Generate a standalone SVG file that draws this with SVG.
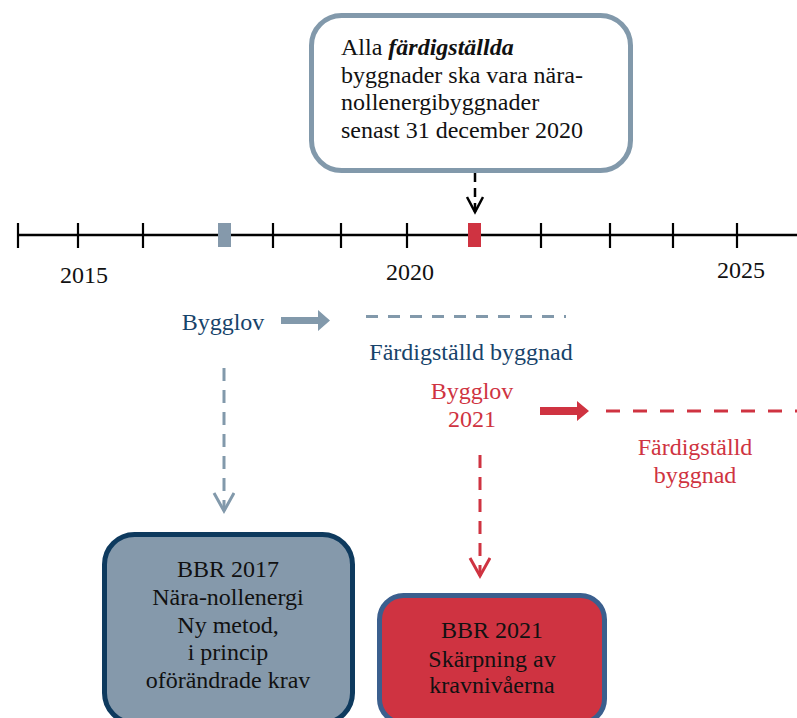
<svg xmlns="http://www.w3.org/2000/svg" width="797" height="718" viewBox="0 0 797 718">
<style>
text{font-family:"Liberation Serif","Times New Roman",serif;font-size:24px}
.blk{fill:#111}
.navy{fill:#17436a}
.red{fill:#cf3341}
.tick{stroke:#000;stroke-width:2.2}
</style>
<defs>
<marker id="vb" markerWidth="24" markerHeight="24" refX="19" refY="11" orient="auto" markerUnits="userSpaceOnUse" viewBox="0 0 24 24"><path d="M1,1 L19,11 L1,21" fill="none" stroke="context-stroke" stroke-width="3"/></marker>
<marker id="vk" markerWidth="20" markerHeight="20" refX="16" refY="9" orient="auto" markerUnits="userSpaceOnUse" viewBox="0 0 20 20"><path d="M1,1 L16,9 L1,17" fill="none" stroke="#000" stroke-width="2.5"/></marker>
</defs>
<rect width="797" height="718" fill="#fff"/>
<g id="timeline">
<line x1="18" y1="235" x2="797" y2="235" stroke="#000" stroke-width="2.5"/>
<path class="tick" d="M18,223V248M78,223V248M143,223V248M273,223V248M341,223V248M407,223V248M541,223V248M610,223V248M673,223V248M737,223V248"/>
<rect x="218" y="223" width="13" height="24" fill="#8599ab"/>
<rect x="468" y="223" width="13" height="24" fill="#cf3341"/>
<text class="blk" x="84" y="283" text-anchor="middle">2015</text>
<text class="blk" x="410" y="280" text-anchor="middle">2020</text>
<text class="blk" x="741" y="278" text-anchor="middle">2025</text>
</g>
<g id="note">
<rect x="311.5" y="15.5" width="319" height="155" rx="30" fill="#fff" stroke="#8299ab" stroke-width="5"/>
<text class="blk" x="341" y="55">Alla <tspan font-weight="bold" font-style="italic">färdigställda</tspan></text>
<text class="blk" x="341" y="82.5">byggnader ska vara nära-</text>
<text class="blk" x="341" y="110">nollenergibyggnader</text>
<text class="blk" x="341" y="137.5">senast 31 december 2020</text>
</g>
<g id="bygglov2017">
<text class="navy" x="223" y="330" text-anchor="middle">Bygglov</text>
</g>
<g id="fardig2017">
<text class="navy" x="471" y="360" text-anchor="middle">Färdigställd byggnad</text>
</g>
<g id="bygglov2021">
<text class="red" x="472" y="399" text-anchor="middle">Bygglov</text>
<text class="red" x="472" y="427" text-anchor="middle">2021</text>
</g>
<g id="fardig2021">
<text class="red" x="695" y="455" text-anchor="middle">Färdigställd</text>
<text class="red" x="695" y="483" text-anchor="middle">byggnad</text>
</g>
<g id="bbr2017">
<rect x="104.5" y="534.5" width="248" height="188.5" rx="30" fill="#8599ab" stroke="#0e3a5e" stroke-width="5"/>
<text class="blk" x="228" y="577" text-anchor="middle">BBR 2017</text>
<text class="blk" x="228" y="605" text-anchor="middle">Nära-nollenergi</text>
<text class="blk" x="228" y="633" text-anchor="middle">Ny metod,</text>
<text class="blk" x="228" y="660" text-anchor="middle">i princip</text>
<text class="blk" x="228" y="688" text-anchor="middle">oförändrade krav</text>
</g>
<g id="bbr2021">
<rect x="379.5" y="595.5" width="225" height="127.5" rx="24" fill="#cf3341" stroke="#3b5f8e" stroke-width="5"/>
<text class="blk" x="492" y="638" text-anchor="middle">BBR 2021</text>
<text class="blk" x="492" y="667" text-anchor="middle">Skärpning av</text>
<text class="blk" x="492" y="693" text-anchor="middle">kravnivåerna</text>
</g>
<g id="connectors" fill="none">
<line x1="475" y1="173" x2="475" y2="212" stroke="#000" stroke-width="2.5" stroke-dasharray="9,6" marker-end="url(#vk)"/>
<path d="M281,317H318V310L330,320.5L318,331V324H281Z" fill="#8299ab"/>
<path d="M540,407H577V401L589,411L577,421V415H540Z" fill="#cf3341"/>
<line x1="366" y1="316.5" x2="566" y2="316.5" stroke="#8299ab" stroke-width="3" stroke-dasharray="12,10"/>
<line x1="606" y1="411" x2="797" y2="411" stroke="#cf3341" stroke-width="3" stroke-dasharray="14,13"/>
<line x1="224" y1="368" x2="224" y2="511" stroke="#8299ab" stroke-width="3" stroke-dasharray="13,9" marker-end="url(#vb)"/>
<line x1="480" y1="455" x2="480" y2="576" stroke="#cf3341" stroke-width="3" stroke-dasharray="13,9" marker-end="url(#vb)"/>
</g>
</svg>
